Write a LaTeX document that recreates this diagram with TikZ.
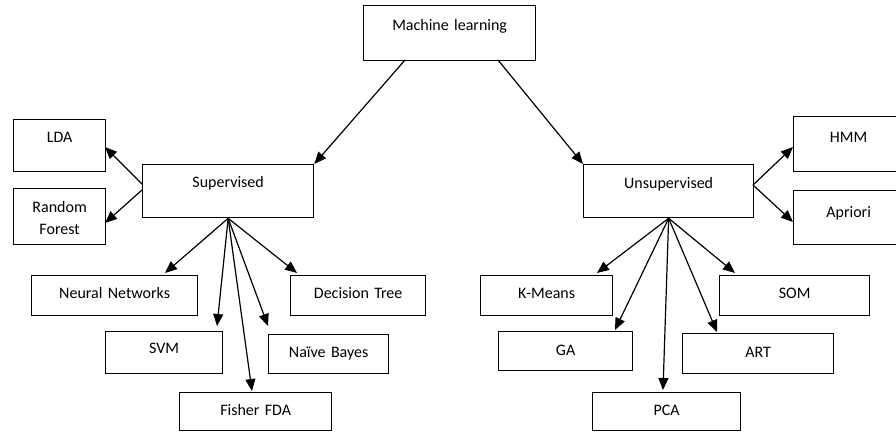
\documentclass[tikz,border=0pt]{standalone}
\usepackage{fontspec}
\setmainfont{Carlito}
\usetikzlibrary{arrows.meta,calc}
\tikzset{
  bx/.style={draw=black, line width=1.3pt, inner sep=0pt, align=center, anchor=north west,
    font=\fontsize{16}{22}\selectfont, text=black},
  arr/.style={line width=1.2pt, -{Triangle[length=12pt,width=10pt]}}
}
\begin{document}
\begin{tikzpicture}[x=1pt,y=-1pt]
\clip (0,0) rectangle (896,431);
% boxes
\node[bx, text width=172pt, text height=25pt, text depth=30pt] (ml) at (363,5) {Machine learning};
\node[bx, text width=171pt, text height=23pt, text depth=30pt] (sup) at (142,164) {Supervised};
\node[bx, text width=170pt, text height=24pt, text depth=29pt] (unsup) at (583,164) {Unsupervised};
\node[bx, text width=92pt, text height=23pt, text depth=29pt] (lda) at (13,119) {LDA};
\node[bx, text width=92pt, text height=24pt, text depth=32pt] (rf) at (13,188) {Random\\Forest};
\node[bx, text width=110pt, text height=26pt, text depth=29pt] (hmm) at (793,116) {HMM};
\node[bx, text width=110pt, text height=27pt, text depth=27pt] (apr) at (793,190) {Apriori};
\node[bx, text width=166pt, text height=23pt, text depth=17pt] (nn) at (31,275) {Neural Networks};
\node[bx, text width=117pt, text height=22pt, text depth=20pt] (svm) at (105,331) {SVM};
\node[bx, text width=152pt, text height=23pt, text depth=15pt] (fda) at (179,392) {Fisher FDA};
\node[bx, text width=120pt, text height=23pt, text depth=16pt] (nb) at (268,334) {Naïve Bayes};
\node[bx, text width=135pt, text height=23pt, text depth=17pt] (dt) at (290,275) {Decision Tree};
\node[bx, text width=132pt, text height=23pt, text depth=17pt] (km) at (480,275) {K-Means};
\node[bx, text width=134pt, text height=24pt, text depth=15pt] (ga) at (498,331) {GA};
\node[bx, text width=148pt, text height=23pt, text depth=15pt] (pca) at (592,392) {PCA};
\node[bx, text width=151pt, text height=24pt, text depth=16pt] (art) at (682,333) {ART};
\node[bx, text width=150pt, text height=23pt, text depth=17pt] (som) at (719,275) {SOM};
% connectors
\draw[arr] ($(ml.north west)+(42,55)$) -- (sup.north east);
\draw[arr] ($(ml.north west)+(135,55)$) -- (unsup.north west);
\draw[arr] ($(sup.north west)+(0,20)$) -- ($(lda.north west)+(92,28)$);
\draw[arr] ($(sup.north west)+(0,26)$) -- ($(rf.north west)+(92,35)$);
\draw[arr] (sup.south) -- ($(nn.north west)+(134,-2)$);
\draw[arr] (sup.south) -- ($(svm.north west)+(112,-5)$);
\draw[arr] (sup.south) -- ($(fda.north west)+(73,-1)$);
\draw[arr] (sup.south) -- ($(nb.north west)+(0,-8)$);
\draw[arr] (sup.south) -- ($(dt.north west)+(7,-2)$);
\draw[arr] ($(unsup.north west)+(170,21)$) -- ($(hmm.north west)+(0,31)$);
\draw[arr] ($(unsup.north west)+(170,21)$) -- ($(apr.north west)+(0,32)$);
\draw[arr] (unsup.south) -- ($(km.north west)+(117,-2)$);
\draw[arr] (unsup.south) -- ($(ga.north west)+(117,-1)$);
\draw[arr] (unsup.south) -- ($(pca.north west)+(71,-2)$);
\draw[arr] (unsup.south) -- ($(art.north west)+(35,-1)$);
\draw[arr] (unsup.south) -- ($(som.north west)+(16,-2)$);
\end{tikzpicture}
\end{document}
